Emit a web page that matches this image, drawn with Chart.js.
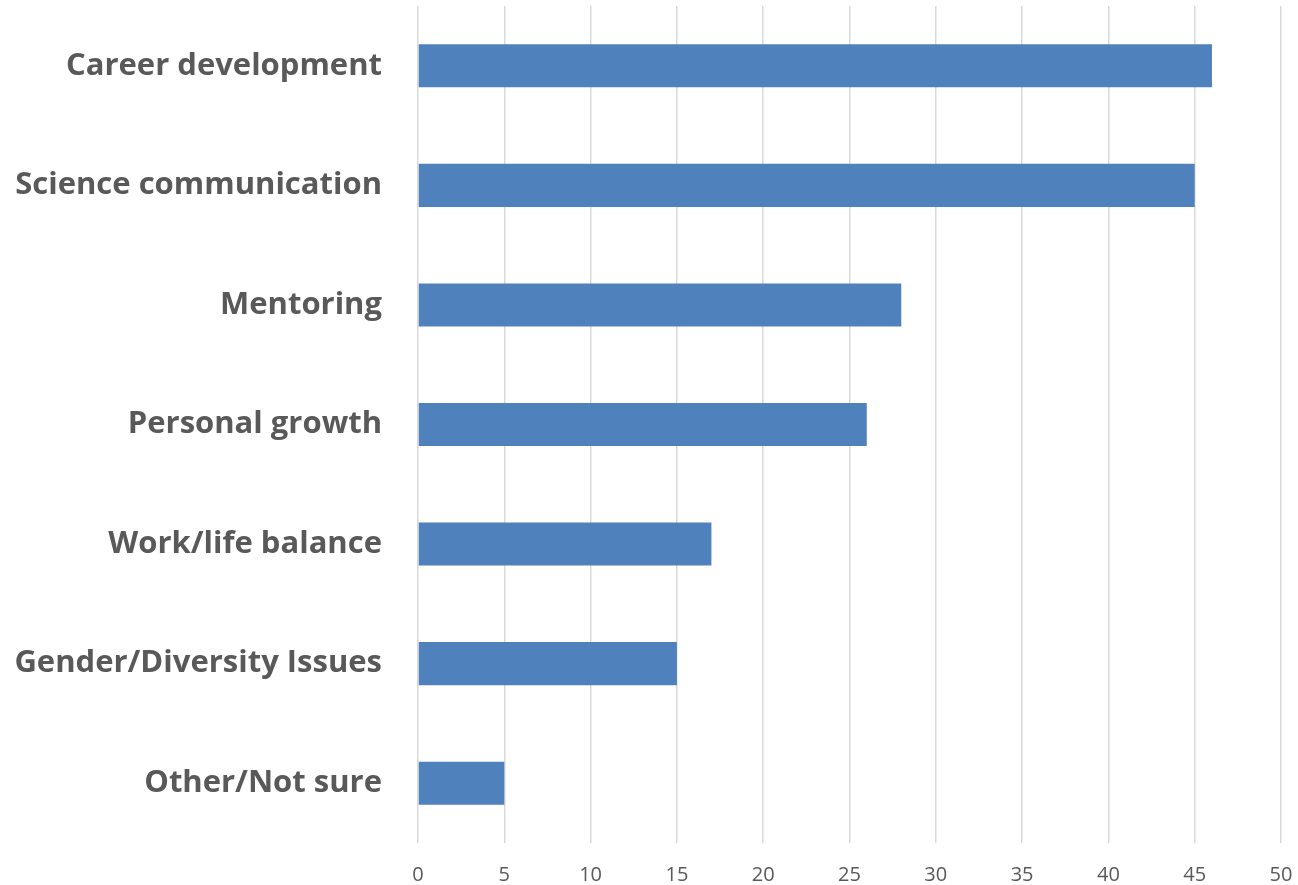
<!DOCTYPE html>
<html>
<head>
<meta charset="utf-8">
<script src="https://cdn.jsdelivr.net/npm/chart.js@4/dist/chart.umd.min.js"></script>
<style>
  html, body { margin: 0; padding: 0; background: #fff; }
  #wrap { width: 1298px; height: 885px; position: relative; }
</style>
</head>
<body>
<div id="wrap"><canvas id="chart"></canvas></div>
<script>
// chart data
const categories = [
  "Career development",
  "Science communication",
  "Mentoring",
  "Personal growth",
  "Work/life balance",
  "Gender/Diversity Issues",
  "Other/Not sure"
];
const responses = [46, 45, 28, 26, 17, 15, 5];
const axisMin = 0;
const axisMax = 50;
const axisStep = 5;

const TEXT = "#595959";
const GRID = "#d9d9d9";
const BAR = "#4f81bd";

new Chart(document.getElementById("chart"), {
  type: "bar",
  data: {
    labels: categories,
    datasets: [{
      data: responses,
      backgroundColor: BAR,
      borderWidth: 0,
      barPercentage: 0.36,
      categoryPercentage: 1
    }]
  },
  options: {
    indexAxis: "y",
    responsive: true,
    maintainAspectRatio: false,
    animation: false,
    layout: { padding: { top: 6, right: 17, left: 0, bottom: 0 } },
    plugins: {
      legend: { display: false },
      tooltip: { enabled: false }
    },
    scales: {
      x: {
        min: axisMin,
        max: axisMax,
        ticks: {
          stepSize: axisStep,
          color: TEXT,
          padding: 20,
          font: { family: "'Open Sans', sans-serif", size: 20 }
        },
        grid: { color: GRID, lineWidth: 1.5, drawTicks: false },
        border: { display: false },
        afterFit: s => {
          s.height = 42;
          s.paddingLeft = 0;
          s.paddingRight = 0;
        }
      },
      y: {
        ticks: {
          color: TEXT,
          padding: 36,
          font: { family: "'Open Sans', sans-serif", size: 31, weight: "bold" }
        },
        grid: { display: false, drawTicks: false },
        border: { display: false },
        afterFit: s => {
          s.width = 418;
          s.paddingTop = 0;
          s.paddingBottom = 0;
        }
      }
    }
  }
});
</script>
</body>
</html>
